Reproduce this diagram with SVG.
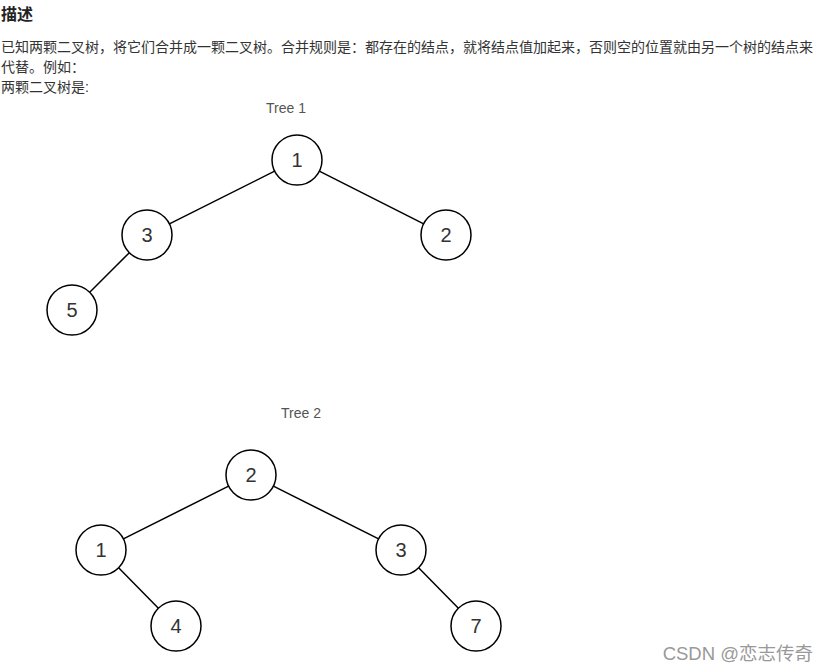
<svg xmlns="http://www.w3.org/2000/svg" width="829" height="671" viewBox="0 0 829 671">
<style>
.t{font-family:"Liberation Sans","Noto Sans CJK SC",sans-serif;fill:#333;font-size:14px}
.h{font-family:"Liberation Sans","Noto Sans CJK SC",sans-serif;fill:#222;font-size:16px;font-weight:bold}
.cap{font-family:"Liberation Sans",Arial,sans-serif;fill:#555;font-size:14px;text-anchor:middle}
.n circle{fill:#fff;stroke:#000;stroke-width:1.5}
.n text{font-family:"Liberation Sans",Arial,sans-serif;font-size:20px;fill:#333;text-anchor:middle;dominant-baseline:central}
.e line{stroke:#000;stroke-width:1.5}
.wm{font-family:"Liberation Sans","Noto Sans CJK SC",sans-serif;font-size:18.5px;fill:#999;text-anchor:end}
</style>
<rect width="829" height="671" fill="#fff"/>
<text class="h" x="1" y="20">描述</text>
<text class="t" x="1" y="52">已知两颗二叉树，将它们合并成一颗二叉树。合并规则是：都存在的结点，就将结点值加起来，否则空的位置就由另一个树的结点来</text>
<text class="t" x="1" y="72">代替。例如：</text>
<text class="t" x="1" y="92">两颗二叉树是:</text>
<text class="cap" x="286" y="113">Tree 1</text>
<text class="cap" x="301" y="418">Tree 2</text>
<g class="e" id="connectors">
<line x1="274.6" y1="171.2" x2="169.4" y2="223.8"/>
<line x1="319.3" y1="171.2" x2="423.7" y2="223.8"/>
<line x1="129.3" y1="252.7" x2="89.7" y2="292.3"/>
<line x1="228.6" y1="486.2" x2="123.4" y2="538.8"/>
<line x1="273.4" y1="486.2" x2="378.6" y2="538.8"/>
<line x1="118.6" y1="567.8" x2="158.4" y2="608.2"/>
<line x1="418.6" y1="567.8" x2="458.4" y2="608.2"/>
</g>
<g class="n" id="t1n1"><circle cx="297" cy="160" r="25"/><text x="297" y="160">1</text></g>
<g class="n" id="t1n3"><circle cx="147" cy="235" r="25"/><text x="147" y="235">3</text></g>
<g class="n" id="t1n2"><circle cx="446" cy="235" r="25"/><text x="446" y="235">2</text></g>
<g class="n" id="t1n5"><circle cx="72" cy="310" r="25"/><text x="72" y="310">5</text></g>
<g class="n" id="t2n2"><circle cx="251" cy="475" r="25"/><text x="251" y="475">2</text></g>
<g class="n" id="t2n1"><circle cx="101" cy="550" r="25"/><text x="101" y="550">1</text></g>
<g class="n" id="t2n3"><circle cx="401" cy="550" r="25"/><text x="401" y="550">3</text></g>
<g class="n" id="t2n4"><circle cx="176" cy="626" r="25"/><text x="176" y="626">4</text></g>
<g class="n" id="t2n7"><circle cx="476" cy="626" r="25"/><text x="476" y="626">7</text></g>
<text class="wm" x="813" y="660">CSDN @恋志传奇</text>
</svg>
